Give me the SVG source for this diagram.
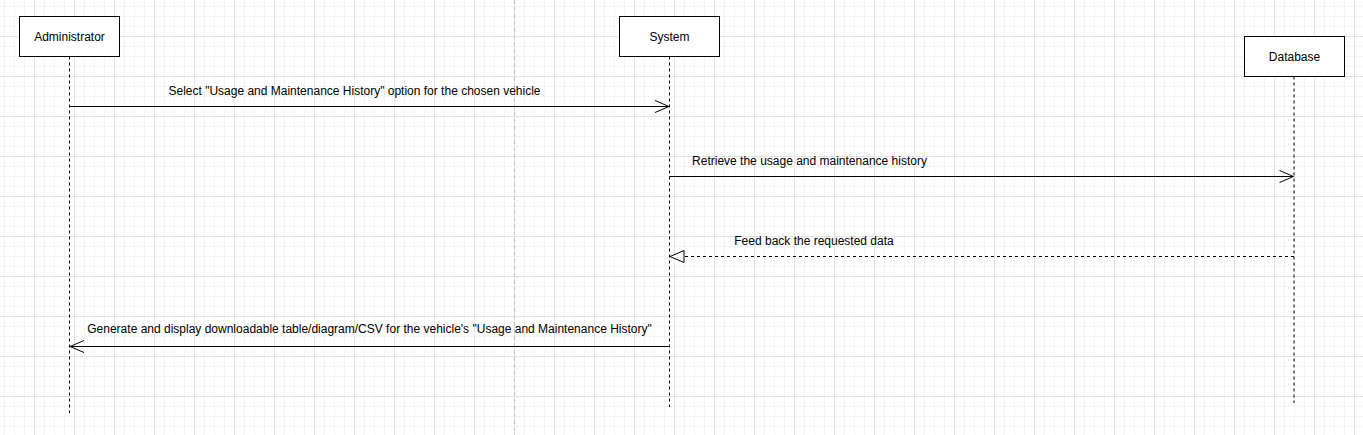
<svg xmlns="http://www.w3.org/2000/svg" width="1363" height="435" viewBox="0 0 1363 435">
<style>
.box{fill:#fff;stroke:#000;stroke-width:1}
.life{stroke:#000;stroke-width:1;stroke-dasharray:3 3;fill:none}
.msg{stroke:#000;stroke-width:1;fill:none}
.ret{stroke:#000;stroke-width:1;fill:none;stroke-dasharray:3 3}
text{font-family:"Liberation Sans",Arial,sans-serif;font-size:12px;fill:#000}
.c{text-anchor:middle}
</style>
<defs>
<pattern id="grid" patternUnits="userSpaceOnUse" x="-6" y="-4" width="40" height="40">
<rect width="40" height="40" fill="#fff"/>
<rect x="10" y="0" width="1" height="40" fill="#f3f3f3"/>
<rect x="20" y="0" width="1" height="40" fill="#f3f3f3"/>
<rect x="30" y="0" width="1" height="40" fill="#f3f3f3"/>
<rect x="0" y="10" width="40" height="1" fill="#f3f3f3"/>
<rect x="0" y="20" width="40" height="1" fill="#f3f3f3"/>
<rect x="0" y="30" width="40" height="1" fill="#f3f3f3"/>
<rect x="0" y="0" width="1" height="40" fill="#e4e4e4"/>
<rect x="0" y="0" width="40" height="1" fill="#e4e4e4"/>
</pattern>
<marker id="open" markerUnits="userSpaceOnUse" viewBox="-16 -8 18 16" refX="0" refY="0" markerWidth="18" markerHeight="16" orient="auto">
<path d="M-14,-6 L0,0 L-14,6" fill="none" stroke="#000" stroke-width="1"/>
</marker>
<marker id="tri" markerUnits="userSpaceOnUse" viewBox="-16 -8 18 16" refX="0" refY="0" markerWidth="18" markerHeight="16" orient="auto">
<path d="M-14,-6 L0,0 L-14,6 Z" fill="#fff" stroke="#000" stroke-width="1" stroke-dasharray="none"/>
</marker>
</defs>
<rect width="1363" height="435" fill="url(#grid)"/>
<line x1="514.5" y1="0" x2="514.5" y2="435" stroke="#c0c0c0" stroke-width="1" stroke-dasharray="4 3"/>

<g id="connectors">
<line class="life" x1="69.5" y1="56.5" x2="69.5" y2="413"/>
<line class="life" x1="669.5" y1="56.5" x2="669.5" y2="407"/>
<line class="life" x1="1294" y1="76.5" x2="1294" y2="403"/>
<line class="msg" x1="69.5" y1="106.5" x2="669" y2="106.5" marker-end="url(#open)"/>
<text x="354.5" y="95" class="c">Select "Usage and Maintenance History" option for the chosen vehicle</text>
<line class="msg" x1="669.5" y1="176.5" x2="1293.5" y2="176.5" marker-end="url(#open)"/>
<text x="809.5" y="165" class="c">Retrieve the usage and maintenance history</text>
<line class="ret" x1="1294" y1="256.5" x2="670" y2="256.5" marker-end="url(#tri)"/>
<text x="814" y="245" class="c">Feed back the requested data</text>
<line class="msg" x1="669.5" y1="346.5" x2="70" y2="346.5" marker-end="url(#open)"/>
<text x="369.5" y="333" class="c">Generate and display downloadable table/diagram/CSV for the vehicle's "Usage and Maintenance History"</text>
</g>

<g id="administrator">
<rect class="box" x="19.5" y="16.5" width="100" height="40"/>
<text x="69.5" y="40.5" class="c">Administrator</text>
</g>
<g id="system">
<rect class="box" x="619.5" y="16.5" width="100" height="40"/>
<text x="669.5" y="40.5" class="c">System</text>
</g>
<g id="database">
<rect class="box" x="1244.5" y="36.5" width="100" height="40"/>
<text x="1294.5" y="60.5" class="c">Database</text>
</g>
</svg>
